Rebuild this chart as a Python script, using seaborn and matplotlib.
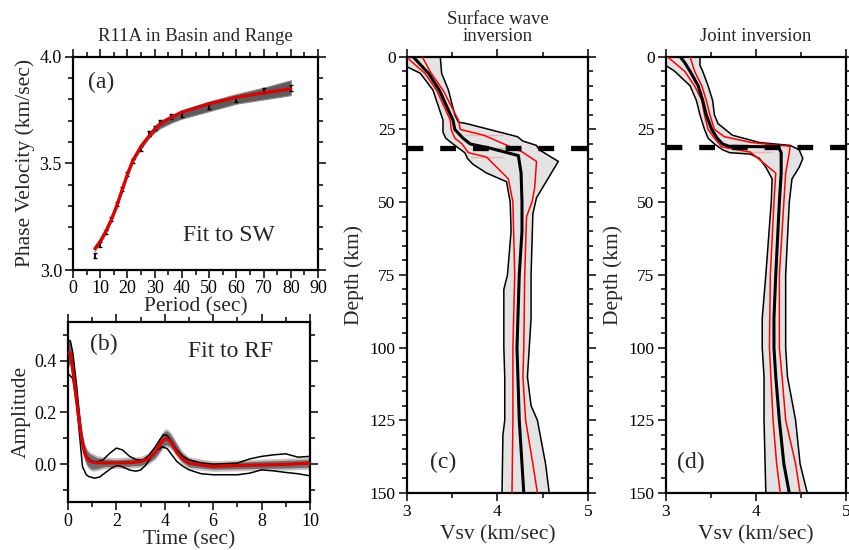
import numpy as np
import pandas as pd
import matplotlib
matplotlib.use("Agg")
import matplotlib.pyplot as plt
import matplotlib.transforms as mtrans
import seaborn as sns
from matplotlib.ticker import MultipleLocator, FormatStrFormatter

# ---------------- (a) dispersion data ----------------
period_obs = [8, 10, 12, 14, 16, 18, 20, 22, 25, 28, 30, 32, 36, 40, 50, 60, 70, 80]
vel_obs = [3.07, 3.12, 3.18, 3.24, 3.31, 3.38, 3.45, 3.51, 3.57, 3.64, 3.665, 3.695,
           3.72, 3.73, 3.765, 3.80, 3.84, 3.855]
vel_err = [0.012, 0.01, 0.01, 0.01, 0.01, 0.01, 0.01, 0.01, 0.01, 0.01, 0.01, 0.01,
           0.012, 0.012, 0.012, 0.012, 0.012, 0.014]
period_fit = [8, 10, 12, 14, 16, 18, 20, 22, 25, 28, 30, 32, 36, 40, 50, 60, 70, 80]
vel_fit = [3.10, 3.135, 3.18, 3.235, 3.30, 3.375, 3.45, 3.515, 3.58, 3.63, 3.66, 3.685,
           3.715, 3.74, 3.78, 3.81, 3.83, 3.85]
vel_band_lo = [3.09, 3.125, 3.17, 3.225, 3.29, 3.365, 3.44, 3.505, 3.57, 3.62, 3.645, 3.665,
               3.69, 3.71, 3.745, 3.78, 3.80, 3.82]
vel_band_hi = [3.11, 3.145, 3.19, 3.245, 3.31, 3.385, 3.46, 3.525, 3.59, 3.64, 3.675, 3.70,
               3.725, 3.75, 3.79, 3.825, 3.855, 3.89]

# ---------------- (b) receiver function data ----------------
t_rf = [0, 0.1, 0.2, 0.3, 0.4, 0.5, 0.6, 0.7, 0.8, 0.9, 1.0, 1.2, 1.5, 2.0, 2.5, 3.0, 3.3,
        3.6, 3.8, 3.9, 4.05, 4.2, 4.35, 4.5, 4.7, 5.0, 5.5, 6.0, 7.0, 8.0, 9.0, 10.0]
rf_fit = [0.43, 0.43, 0.36, 0.29, 0.21, 0.14, 0.08, 0.04, 0.02, 0.012, 0.008, 0.005, 0.005,
          0.005, 0.006, 0.01, 0.02, 0.045, 0.075, 0.09, 0.10, 0.09, 0.07, 0.045, 0.022,
          0.004, -0.003, -0.009, -0.005, -0.003, -0.001, 0.004]
rf_band_lo = [0.38, 0.39, 0.32, 0.25, 0.17, 0.10, 0.05, 0.015, -0.005, -0.015, -0.02, -0.018,
              -0.01, -0.008, -0.008, -0.005, 0.005, 0.025, 0.05, 0.065, 0.075, 0.07, 0.055,
              0.035, 0.01, -0.01, -0.015, -0.02, -0.018, -0.016, -0.015, -0.012]
rf_band_hi = [0.48, 0.47, 0.41, 0.33, 0.25, 0.18, 0.11, 0.07, 0.05, 0.04, 0.035, 0.025, 0.02,
              0.017, 0.02, 0.022, 0.035, 0.065, 0.10, 0.118, 0.13, 0.12, 0.10, 0.075, 0.045,
              0.02, 0.012, 0.005, 0.008, 0.012, 0.015, 0.018]
t_obs_hi = [0, 0.1, 0.2, 0.36, 0.46, 0.56, 0.66, 0.77, 0.9, 1.04, 1.25, 1.45, 1.7, 2.0, 2.25,
            2.55, 2.8, 3.1, 3.35, 3.6, 3.8, 3.95, 4.1, 4.3, 4.5, 4.75, 5.0, 5.5, 6.0, 7.0,
            7.5, 8.0, 8.5, 9.0, 9.5, 10.0]
rf_obs_hi = [0.48, 0.475, 0.43, 0.30, 0.20, 0.107, 0.06, 0.03, 0.017, 0.01, 0.01, 0.017,
             0.04, 0.062, 0.055, 0.03, 0.018, 0.015, 0.035, 0.066, 0.095, 0.114, 0.11, 0.085,
             0.055, 0.03, 0.017, 0.004, 0.0, 0.004, 0.02, 0.03, 0.036, 0.04, 0.027, 0.03]
t_obs_lo = [0, 0.2, 0.36, 0.5, 0.6, 0.75, 0.86, 1.1, 1.3, 1.5, 1.8, 2.05, 2.3, 2.55, 2.8,
            3.0, 3.2, 3.4, 3.65, 3.9, 4.1, 4.3, 4.5, 4.75, 5.0, 5.5, 6.0, 7.0, 7.5, 8.0,
            8.5, 9.0, 9.5, 10.0]
rf_obs_lo = [0.35, 0.33, 0.227, 0.09, -0.01, -0.04, -0.048, -0.054, -0.05, -0.036, -0.015,
             -0.005, -0.012, -0.023, -0.027, -0.023, -0.005, 0.022, 0.05, 0.067, 0.06, 0.035,
             0.01, -0.008, -0.022, -0.037, -0.041, -0.041, -0.035, -0.022, -0.026, -0.032,
             -0.037, -0.045]

# ---------------- (c) surface wave inversion ----------------
sw_mean_depth = [0, 5.7, 11.5, 21.8, 25, 28, 30, 31.5, 31.5, 34, 40, 50, 60, 75, 100, 125, 140, 150]
sw_mean_vs = [3.07, 3.24, 3.36, 3.51, 3.53, 3.62, 3.70, 3.75, 4.10, 4.23, 4.26, 4.27, 4.27,
              4.24, 4.215, 4.24, 4.27, 4.29]
sw_redl_depth = [0, 1, 5.7, 11.5, 21.8, 25, 28, 30, 33, 34.5, 34.5, 42, 50, 75, 100, 125, 150]
sw_redl_vs = [3.02, 3.03, 3.20, 3.33, 3.48, 3.49, 3.53, 3.61, 3.68, 3.70, 4.06, 4.12, 4.17,
              4.19, 4.17, 4.17, 4.16]
sw_redr_depth = [0, 5.7, 11.5, 21.8, 25, 27, 27, 32.7, 36, 45, 50, 55, 75, 100, 110, 125, 140, 150]
sw_redr_vs = [3.17, 3.27, 3.40, 3.57, 3.59, 3.64, 4.06, 4.27, 4.43, 4.41, 4.38, 4.32, 4.30,
              4.29, 4.28, 4.31, 4.39, 4.44]
sw_envl_depth = [0, 3.4, 5.7, 11.5, 21.8, 26, 28, 30, 33, 35, 37, 40, 43, 50, 60, 75, 80, 100,
                 110, 125, 130, 150]
sw_envl_vs = [3.0, 3.0, 3.15, 3.29, 3.40, 3.40, 3.43, 3.51, 3.64, 3.67, 3.73, 3.88, 4.10,
              4.14, 4.15, 4.11, 4.07, 4.07, 4.08, 4.08, 4.06, 4.05]
sw_envr_depth = [0, 5.7, 11.5, 20, 22.5, 23, 27.5, 29, 30.5, 32, 36, 48.5, 54, 75, 90, 100,
                 110, 120, 125, 140, 150]
sw_envr_vs = [3.37, 3.385, 3.46, 3.53, 3.57, 3.66, 4.22, 4.28, 4.43, 4.46, 4.67, 4.43, 4.39,
              4.37, 4.37, 4.35, 4.33, 4.37, 4.44, 4.53, 4.57]
sw_moho = 31.4

# ---------------- (d) joint inversion ----------------
jt_mean_depth = [0, 2, 5, 10, 15, 20, 25, 28, 30, 30.8, 31, 33, 40, 50, 75, 90, 100, 110, 125, 140, 150]
jt_mean_vs = [3.16, 3.21, 3.27, 3.36, 3.41, 3.45, 3.51, 3.57, 3.63, 3.70, 4.25, 4.28, 4.28,
              4.26, 4.22, 4.20, 4.20, 4.22, 4.26, 4.31, 4.37]
jt_redl_depth = [0, 0.8, 5, 10, 15, 20, 25, 28, 31, 32.8, 32.8, 40, 50, 75, 100, 125, 140, 150]
jt_redl_vs = [3.02, 3.05, 3.21, 3.32, 3.40, 3.43, 3.47, 3.54, 3.62, 3.70, 4.18, 4.22, 4.20,
              4.16, 4.15, 4.19, 4.23, 4.27]
jt_redr_depth = [0, 5, 10, 15, 20, 25, 27.5, 29.5, 30.3, 30.8, 33, 40, 50, 75, 100, 110, 125, 140, 150]
jt_redr_vs = [3.27, 3.32, 3.40, 3.45, 3.49, 3.54, 3.65, 3.95, 4.20, 4.38, 4.37, 4.33, 4.31,
              4.26, 4.26, 4.29, 4.33, 4.44, 4.49]
jt_envl_depth = [0, 3, 5, 10, 15, 20, 25, 28, 30, 32, 33, 33.5, 35, 38, 42, 50, 75, 90, 100,
                 110, 125, 150]
jt_envl_vs = [3.0, 3.0, 3.10, 3.27, 3.34, 3.38, 3.43, 3.47, 3.54, 3.63, 3.71, 3.94, 4.04,
              4.11, 4.18, 4.17, 4.11, 4.07, 4.07, 4.09, 4.09, 4.11]
jt_envr_depth = [0, 3, 5, 10, 15, 20, 23, 27, 29.5, 30.5, 32, 35, 38, 42, 50, 75, 100, 110,
                 125, 140, 150]
jt_envr_vs = [3.38, 3.38, 3.41, 3.47, 3.52, 3.54, 3.58, 3.74, 4.04, 4.38, 4.48, 4.52, 4.48,
              4.40, 4.37, 4.33, 4.33, 4.35, 4.44, 4.49, 4.57]
jt_moho = 31.1

# ---------------- style ----------------
sns.set_theme(style="ticks")
plt.rcParams['font.family'] = ['Liberation Serif', 'DejaVu Serif']
plt.rcParams['lines.solid_joinstyle'] = 'round'

TICK = 13
LAB = 15.5
TTL = 13.5
ANN = 17

fig = plt.figure(figsize=(8.49, 5.5), dpi=100)
ax_a = fig.add_axes([0.086, 0.509, 0.2886, 0.3878])
ax_b = fig.add_axes([0.0801, 0.0878, 0.285, 0.3273])
ax_c = fig.add_axes([0.479, 0.1036, 0.2139, 0.7933])
ax_d = fig.add_axes([0.7841, 0.1036, 0.2125, 0.7933])


def style_axis(ax):
    for s in ax.spines.values():
        s.set_linewidth(1.6)
        s.set_color('black')
    ax.tick_params(which='both', direction='out', top=True, right=True,
                   width=1.1, colors='black', labelsize=TICK, pad=2)
    ax.tick_params(which='major', length=6)
    ax.tick_params(which='minor', length=3.5)


# ---- (a) ----
df_fit = pd.DataFrame({'period': period_fit, 'vel': vel_fit})
ax_a.fill_between(period_fit, vel_band_lo, vel_band_hi, color='#5c5c5c', lw=0.8,
                  edgecolor='#8a8a8a', zorder=1)
ax_a.errorbar(period_obs, vel_obs, yerr=vel_err, fmt='none', ecolor='black',
              elinewidth=1.3, capsize=1.5, capthick=1.0, zorder=2)
sns.lineplot(data=df_fit, x='period', y='vel', ax=ax_a, color='#e00000', lw=2.3,
             zorder=3, legend=False)
ax_a.set_xlim(0, 90)
ax_a.set_ylim(3.0, 4.0)
ax_a.xaxis.set_major_locator(MultipleLocator(10))
ax_a.xaxis.set_minor_locator(MultipleLocator(5))
ax_a.yaxis.set_major_locator(MultipleLocator(0.5))
ax_a.yaxis.set_minor_locator(MultipleLocator(0.1))
ax_a.yaxis.set_major_formatter(FormatStrFormatter('%.1f'))
style_axis(ax_a)
ax_a.tick_params(axis='x', pad=1)
ax_a.set_xlabel('Period (sec)', fontsize=LAB, labelpad=0.5)
ax_a.set_ylabel('Phase Velocity (km/sec)', fontsize=LAB, labelpad=3)
ax_a.set_title('R11A in Basin and Range', fontsize=TTL, pad=11)
ax_a.text(5.5, 3.88, '(a)', fontsize=ANN, ha='left', va='center')
ax_a.text(40.4, 3.164, 'Fit to SW', fontsize=ANN, ha='left', va='center')

# ---- (b) ----
ax_b.fill_between(t_rf, np.array(rf_band_lo) - 0.008, np.array(rf_band_hi) + 0.008,
                  color='#c4c4c4', lw=0, zorder=1)
ax_b.fill_between(t_rf, rf_band_lo, rf_band_hi, color='#6e6e6e', lw=0, zorder=1.5)
sns.lineplot(x=t_obs_hi, y=rf_obs_hi, ax=ax_b, color='black', lw=1.1, zorder=2)
sns.lineplot(x=t_obs_lo, y=rf_obs_lo, ax=ax_b, color='black', lw=1.1, zorder=2)
sns.lineplot(x=t_rf, y=rf_fit, ax=ax_b, color='#e00000', lw=2.3, zorder=3)
ax_b.set_xlim(0, 10)
ax_b.set_ylim(-0.145, 0.55)
ax_b.xaxis.set_major_locator(MultipleLocator(2))
ax_b.xaxis.set_minor_locator(MultipleLocator(1))
ax_b.yaxis.set_major_locator(MultipleLocator(0.2))
ax_b.yaxis.set_minor_locator(MultipleLocator(0.1))
ax_b.yaxis.set_major_formatter(FormatStrFormatter('%.1f'))
style_axis(ax_b)
ax_b.set_xlabel('Time (sec)', fontsize=LAB, labelpad=0)
ax_b.set_ylabel('Amplitude', fontsize=LAB, labelpad=3)
ax_b.text(0.91, 0.464, '(b)', fontsize=ANN, ha='left', va='center')
ax_b.text(4.96, 0.434, 'Fit to RF', fontsize=ANN, ha='left', va='center')


# ---- (c), (d) ----
def profile(ax, envl_d, envl_v, envr_d, envr_v, redl_d, redl_v, redr_d, redr_v,
            mean_d, mean_v, moho, title):
    ax.fill(np.r_[envl_v, envr_v[::-1]], np.r_[envl_d, envr_d[::-1]],
            color='#e3e3e3', lw=0, zorder=1)
    kw = dict(ax=ax, sort=False, orient='y')
    sns.lineplot(x=envl_v, y=envl_d, color='black', lw=1.1, zorder=2, **kw)
    sns.lineplot(x=envr_v, y=envr_d, color='black', lw=1.1, zorder=2, **kw)
    sns.lineplot(x=redl_v, y=redl_d, color='#ff0000', lw=1.1, zorder=3, **kw)
    sns.lineplot(x=redr_v, y=redr_d, color='#ff0000', lw=1.1, zorder=3, **kw)
    sns.lineplot(x=mean_v, y=mean_d, color='black', lw=2.2, zorder=4, **kw)
    ax.plot([3.0, 5.0], [moho, moho], color='black', lw=3.8, dashes=(3, 3.2),
            dash_capstyle='butt', zorder=5, clip_on=False)
    ax.set_xlim(3, 5)
    ax.set_ylim(150, 0)
    ax.xaxis.set_major_locator(MultipleLocator(1))
    ax.xaxis.set_minor_locator(MultipleLocator(0.5))
    ax.yaxis.set_major_locator(MultipleLocator(25))
    ax.yaxis.set_minor_locator(MultipleLocator(5))
    style_axis(ax)
    ax.tick_params(labelsize=12.5)
    ax.set_xlabel('Vsv (km/sec)', fontsize=LAB, labelpad=4)
    ax.set_ylabel('Depth (km)', fontsize=LAB, labelpad=4)
    ax.set_title(title, fontsize=TTL, pad=11, linespacing=1.05)
    return ax


profile(ax_c, sw_envl_depth, sw_envl_vs, sw_envr_depth, sw_envr_vs,
        sw_redl_depth, sw_redl_vs, sw_redr_depth, sw_redr_vs,
        sw_mean_depth, sw_mean_vs, sw_moho, 'Surface wave\ninversion')
ax_c.text(3.26, 139.5, '(c)', fontsize=ANN, ha='left', va='center')

profile(ax_d, jt_envl_depth, jt_envl_vs, jt_envr_depth, jt_envr_vs,
        jt_redl_depth, jt_redl_vs, jt_redr_depth, jt_redr_vs,
        jt_mean_depth, jt_mean_vs, jt_moho, 'Joint inversion')
ax_d.text(3.12, 139.5, '(d)', fontsize=ANN, ha='left', va='center')

fig.canvas.draw()
last_tick = ax_d.xaxis.get_major_ticks()[-1]
last_tick.label1.set_transform(last_tick.label1.get_transform() +
                               mtrans.ScaledTranslation(-3 / 72, 0, fig.dpi_scale_trans))

fig.savefig('out.png', dpi=100)
